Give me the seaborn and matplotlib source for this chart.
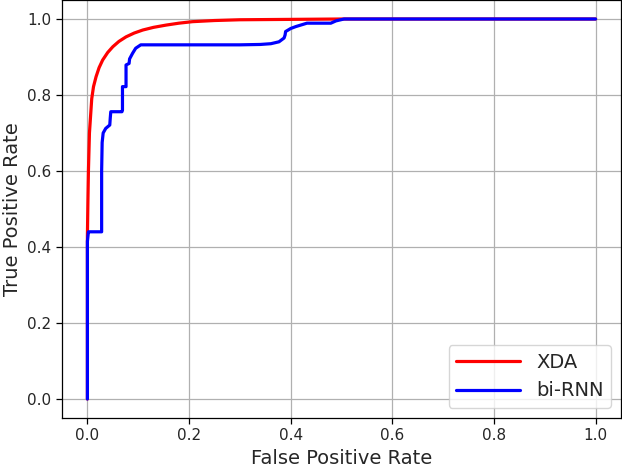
import matplotlib
matplotlib.use("Agg")
import matplotlib.pyplot as plt
import seaborn as sns
import pandas as pd

# XDA ROC curve
xda_fpr = [0.0, 0.0, 0.001, 0.002, 0.004, 0.0085, 0.012, 0.017, 0.023, 0.030, 0.040,
           0.050, 0.062, 0.076, 0.092, 0.109, 0.13, 0.155, 0.18, 0.207, 0.25, 0.3,
           0.4, 0.5, 0.7, 1.0]
xda_tpr = [0.0, 0.43, 0.52, 0.60, 0.70, 0.79, 0.822, 0.848, 0.872, 0.892, 0.912,
           0.927, 0.941, 0.953, 0.963, 0.971, 0.978, 0.984, 0.989, 0.993, 0.996, 0.998,
           0.999, 1.0, 1.0, 1.0]

# bi-RNN ROC curve
rnn_fpr = [0.0, 0.0, 0.002, 0.004, 0.028, 0.028, 0.029, 0.031, 0.036, 0.044, 0.045,
           0.046, 0.068, 0.069, 0.069, 0.076, 0.076, 0.082, 0.083, 0.089, 0.095, 0.105,
           0.20, 0.30, 0.34, 0.361, 0.377, 0.387, 0.389, 0.390, 0.40, 0.41, 0.432,
           0.479, 0.489, 0.505, 0.7, 1.0]
rnn_tpr = [0.0, 0.415, 0.44, 0.44, 0.44, 0.60, 0.675, 0.70, 0.712, 0.721, 0.74,
           0.756, 0.756, 0.76, 0.822, 0.822, 0.879, 0.883, 0.895, 0.91, 0.923, 0.932,
           0.932, 0.932, 0.933, 0.935, 0.94, 0.95, 0.958, 0.967, 0.975, 0.98, 0.989,
           0.989, 0.995, 1.0, 1.0, 1.0]

sns.set_style("ticks")
plt.rcParams['font.family'] = ['DejaVu Sans']

fig = plt.figure(figsize=(6.22, 4.70), dpi=100)
ax = fig.add_axes([62 / 622, 52 / 470, 559 / 622, 418 / 470])

df_xda = pd.DataFrame({"fpr": xda_fpr, "tpr": xda_tpr})
df_rnn = pd.DataFrame({"fpr": rnn_fpr, "tpr": rnn_tpr})

sns.lineplot(data=df_xda, x="fpr", y="tpr", ax=ax, color="red", linewidth=2.3,
             sort=False, estimator=None, label="XDA")
sns.lineplot(data=df_rnn, x="fpr", y="tpr", ax=ax, color="blue", linewidth=2.3,
             sort=False, estimator=None, label="bi-RNN")

ax.set_xlim(-0.05, 1.05)
ax.set_ylim(-0.05, 1.05)
ax.set_xticks([0.0, 0.2, 0.4, 0.6, 0.8, 1.0])
ax.set_yticks([0.0, 0.2, 0.4, 0.6, 0.8, 1.0])
ax.set_xticklabels(["0.0", "0.2", "0.4", "0.6", "0.8", "1.0"])
ax.set_yticklabels(["0.0", "0.2", "0.4", "0.6", "0.8", "1.0"])
ax.grid(True, color="#b0b0b0", linewidth=0.9)
ax.tick_params(labelsize=11, length=4, width=0.9, color="black")
for s in ax.spines.values():
    s.set_color("black")
    s.set_linewidth(0.9)
ax.set_xlabel("False Positive Rate", fontsize=14)
ax.set_ylabel("True Positive Rate", fontsize=14)
leg = ax.legend(loc="lower right", fontsize=14, frameon=True, fancybox=True,
                handlelength=3.3, borderaxespad=0.5)
leg.get_frame().set_edgecolor("#cccccc")

fig.savefig("out.png", dpi=100)
